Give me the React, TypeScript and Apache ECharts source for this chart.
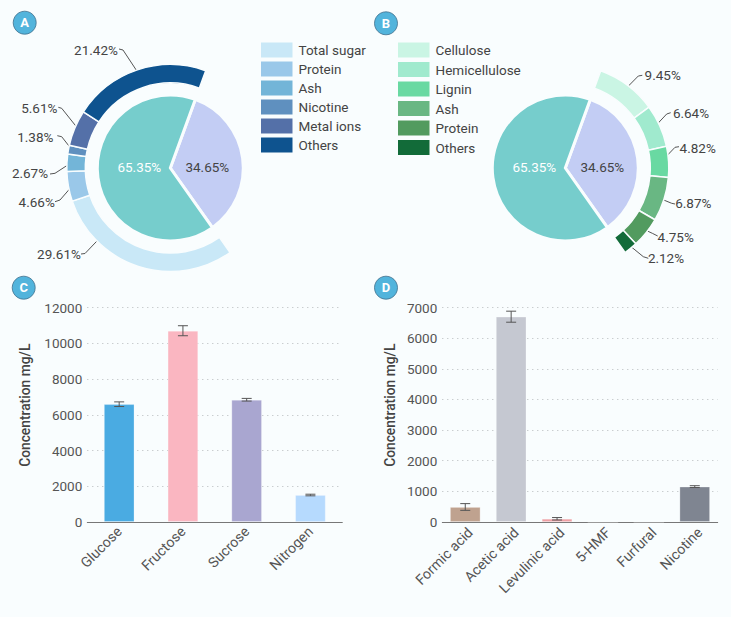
import React, { useEffect, useRef } from 'react';
import * as echarts from 'echarts';

// 内圈饼图（A、B 共用）
const innerValues = [34.65, 65.35];
const innerColors = ['#c3cdf4', '#76cdcc'];

// A：外环
const ringANames = ['Total sugar', 'Protein', 'Ash', 'Nicotine', 'Metal ions', 'Others'];
const ringAValues = [29.61, 4.66, 2.67, 1.38, 5.61, 21.42];
const ringAColors = ['#c9e8f7', '#9ac8e9', '#73b5d8', '#5f90bf', '#5470a8', '#0e538f'];

// B：外环
const ringBNames = ['Cellulose', 'Hemicellulose', 'Lignin', 'Ash', 'Protein', 'Others'];
const ringBValues = [9.45, 6.64, 4.82, 6.87, 4.75, 2.12];
const ringBColors = ['#caf5e4', '#a0eace', '#69d9a2', '#69b783', '#529b5f', '#126b39'];

// C：柱状
const sugarNames = ['Glucose', 'Fructose', 'Sucrose', 'Nitrogen'];
const sugarValues = [6590, 10700, 6840, 1510];
const sugarErrors = [130, 280, 75, 45];
const sugarColors = ['#4aabe2', '#fab6c1', '#a9a6d0', '#b6dafe'];

// D：柱状
const acidNames = ['Formic acid', 'Acetic acid', 'Levulinic acid', '5-HMF', 'Furfural', 'Nicotine'];
const acidValues = [490, 6700, 105, 0, 0, 1155];
const acidErrors = [110, 180, 40, 0, 0, 30];
const acidColors = ['#bfa28f', '#c5c8d1', '#ee9fa4', '#aaaaaa', '#aaaaaa', '#7f8591'];

const BG = '#f9fdfe';
const TEXT = '#555555';
const FONT = 'Roboto';
const FS = 13.5;

// 标签位置：[文字中心, 折点, 线端, 可选的起点]
type Pt = [number, number];
type LabelSpot = [Pt, Pt, Pt, Pt?];
const ringALabels: LabelSpot[] = [
  [[59, 253.5], [85, 253.5], [81, 254], [102.7, 235]],
  [[36.7, 201.7], [60, 200], [55, 201.7]],
  [[30, 173.3], [55, 173.3], [50, 174]],
  [[35.3, 136.7], [61.7, 136.7], [57.3, 135.7]],
  [[39.3, 108.3], [61.7, 108.3], [58.3, 107.3]],
  [[96, 50], [123, 50], [119, 49]],
];
const ringBLabels: LabelSpot[] = [
  [[662.7, 75], [638.3, 76], [642.3, 75.3]],
  [[691, 113.3], [666.7, 114], [670.7, 112.7]],
  [[697.7, 147.7], [675, 147.3], [679, 146.7]],
  [[693.3, 203.3], [671.7, 203.3], [675, 204]],
  [[675.7, 236.7], [652.3, 233.3], [657.7, 236]],
  [[666, 258.3], [643.3, 256.7], [648.3, 258.3]],
];

const pct = (p: any) => `${Number(p.value).toFixed(2)}%`;

// 内圈
const innerPie = (cx: number) => ({
  type: 'pie',
  silent: true,
  center: [cx, 168],
  radius: [0, 73],
  startAngle: 70,
  avoidLabelOverlap: false,
  itemStyle: { borderColor: BG, borderWidth: 3 },
  label: { show: true, position: 'inside', formatter: pct, fontFamily: FONT, fontSize: FS },
  labelLine: { show: false },
  labelLayout: (p: any) => ({
    x: cx + (p.dataIndex === 0 ? 37 : -31),
    y: 167,
    align: 'center',
    verticalAlign: 'middle',
  }),
  data: [
    { value: innerValues[0], name: 'inner-a', itemStyle: { color: innerColors[0] }, label: { color: '#444444' } },
    { value: innerValues[1], name: 'inner-b', itemStyle: { color: innerColors[1] }, label: { color: '#ffffff' } },
  ],
});

// 外环，gap 为透明占位
const ringPie = (
  cx: number,
  names: string[],
  values: number[],
  colors: string[],
  labels: LabelSpot[],
  gap: number,
  gapFirst: boolean,
  inset: number,
) => {
  const offset = gapFirst ? 1 : 0;
  const items: any[] = values.map((v, i) => ({
    value: v,
    name: names[i],
    itemStyle: { color: colors[i] },
  }));
  const blank = {
    value: gap,
    name: 'blank',
    itemStyle: { color: 'transparent', borderWidth: 0 },
    label: { show: false },
    labelLine: { show: false },
  };
  return {
    type: 'pie',
    silent: true,
    center: [cx, 168],
    radius: [85, 103.5],
    startAngle: 70,
    avoidLabelOverlap: false,
    itemStyle: { borderColor: BG, borderWidth: 1.5 },
    label: { show: true, formatter: pct, color: '#444444', fontFamily: FONT, fontSize: FS },
    labelLine: { show: true, lineStyle: { color: '#555555', width: 1 } },
    labelLayout: (p: any) => {
      const l = labels[p.dataIndex - offset];
      if (!l || !p.labelLinePoints) return {};
      const s = p.labelLinePoints[0];
      const dx = s[0] - cx;
      const dy = s[1] - 168;
      const r = Math.sqrt(dx * dx + dy * dy);
      const k = (r - inset) / r;
      return {
        x: l[0][0],
        y: l[0][1],
        align: 'center',
        verticalAlign: 'middle',
        labelLinePoints: [l[3] ?? [cx + dx * k, 168 + dy * k], l[1], l[2]],
      };
    },
    data: gapFirst ? [blank, ...items] : [...items, blank],
  };
};

const legend = (left: number, names: string[], colors: string[], gap: number) => ({
  left,
  top: 40.5,
  padding: 0,
  orient: 'vertical',
  selectedMode: false,
  icon: 'rect',
  itemWidth: 33.5,
  itemHeight: 17,
  itemGap: gap,
  textStyle: { color: '#444444', fontFamily: FONT, fontSize: FS },
  data: names.map((n, i) => ({ name: n, itemStyle: { color: colors[i] } })),
});

const grid = (left: number, right: number) => ({
  left,
  width: right - left,
  top: 307.5,
  height: 214.5,
});

const xAxis = (i: number, names: string[], margin: number, verticalAlign: string) => ({
  type: 'category',
  gridIndex: i,
  data: names,
  axisLine: { lineStyle: { color: '#777777', width: 1 } },
  axisTick: { alignWithLabel: true, length: 6, lineStyle: { color: '#888888', width: 1.5 } },
  axisLabel: {
    interval: 0,
    rotate: 45,
    margin,
    verticalAlign,
    color: TEXT,
    fontFamily: FONT,
    fontSize: 14.2,
  },
});

const yAxis = (i: number, max: number, interval: number, nameGap: number) => ({
  type: 'value',
  gridIndex: i,
  min: 0,
  max,
  interval,
  name: 'Concentration mg/L',
  nameLocation: 'middle',
  nameGap,
  nameTextStyle: { color: '#444444', fontFamily: FONT, fontSize: 13.8, fontWeight: 500, padding: [0, 0, 0, 19] },
  axisLine: { show: false },
  axisTick: { show: false },
  axisLabel: { margin: 5, color: TEXT, fontFamily: FONT, fontSize: FS, formatter: (v: number) => String(v) },
  splitLine: { lineStyle: { type: [1, 4], color: '#b5b9bb', width: 1 } },
});

const barSeries = (i: number, values: number[], colors: string[]) => ({
  type: 'bar',
  silent: true,
  xAxisIndex: i,
  yAxisIndex: i,
  barWidth: 30.5,
  data: values.map((v, k) => ({
    value: v,
    itemStyle: { color: colors[k], borderColor: 'rgba(255,255,255,0.35)', borderWidth: 0.8 },
  })),
});

// 误差线
const errorSeries = (i: number, values: number[], errors: number[]) => ({
  type: 'custom',
  silent: true,
  xAxisIndex: i,
  yAxisIndex: i,
  z: 5,
  encode: { x: 0, y: [1, 2] },
  data: values.map((v, k) => [k, v - errors[k], v + errors[k]]),
  renderItem: (_: any, api: any) => {
    const lo = api.coord([api.value(0), api.value(1)]);
    const hi = api.coord([api.value(0), api.value(2)]);
    if (api.value(1) === api.value(2)) return null;
    const style = { stroke: '#555555', lineWidth: 1 };
    const x = lo[0];
    const w = 5;
    return {
      type: 'group',
      children: [
        { type: 'line', shape: { x1: x, y1: lo[1], x2: x, y2: hi[1] }, style },
        { type: 'line', shape: { x1: x - w, y1: lo[1], x2: x + w, y2: lo[1] }, style },
        { type: 'line', shape: { x1: x - w, y1: hi[1], x2: x + w, y2: hi[1] }, style },
      ],
    };
  },
});

const badge = (letter: string, x: number, y: number) => ({
  type: 'group',
  x,
  y,
  silent: true,
  children: [
    { type: 'circle', shape: { cx: 0, cy: 0, r: 11.5 }, style: { fill: '#52b4dc', stroke: '#3f6f8c', lineWidth: 0.8 } },
    {
      type: 'text',
      style: {
        text: letter,
        x: 0,
        y: 0,
        align: 'center',
        verticalAlign: 'middle',
        fill: '#ffffff',
        fontFamily: FONT,
        fontSize: 13,
        fontWeight: 700,
      },
    },
  ],
});

const App: React.FC = () => {
  const chartRef = useRef<HTMLDivElement>(null);

  useEffect(() => {
    if (!chartRef.current) return;
    document.body.style.margin = '0';
    document.body.style.background = BG;
    const chart = echarts.init(chartRef.current, undefined, { renderer: 'svg' });

    chart.setOption({
      animation: false,
      backgroundColor: BG,
      textStyle: { fontFamily: FONT },
      legend: [
        legend(259, ringANames, ringAColors, 0),
        legend(396, ringBNames, ringBColors, 0.5),
      ],
      grid: [grid(87.3, 342.3), grid(442.3, 717.7)],
      xAxis: [xAxis(0, sugarNames, 7, 'middle'), xAxis(1, acidNames, 3, 'top')],
      yAxis: [yAxis(0, 12000, 2000, 55), yAxis(1, 7000, 1000, 45)],
      series: [
        innerPie(170.3),
        ringPie(170.3, ringANames, ringAValues, ringAColors, ringALabels, innerValues[0], true, 4),
        innerPie(565.3),
        ringPie(565.3, ringBNames, ringBValues, ringBColors, ringBLabels, innerValues[1], false, 8),
        barSeries(0, sugarValues, sugarColors),
        errorSeries(0, sugarValues, sugarErrors),
        barSeries(1, acidValues, acidColors),
        errorSeries(1, acidValues, acidErrors),
      ],
      graphic: [
        badge('A', 24.7, 22.7),
        badge('B', 386, 23.3),
        badge('C', 23.7, 287.7),
        badge('D', 386, 287.7),
      ],
    });

    return () => chart.dispose();
  }, []);

  return <div ref={chartRef} style={{ width: 731, height: 617 }} />;
};

export default App;
